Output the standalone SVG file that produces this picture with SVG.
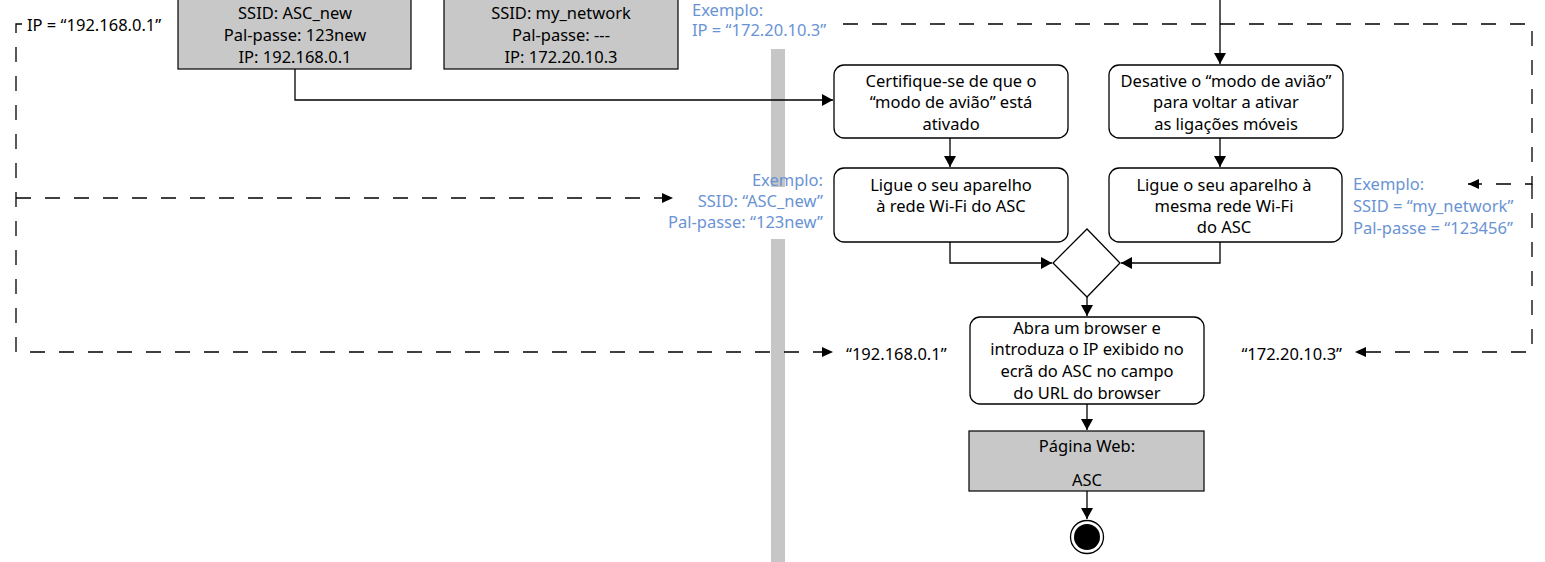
<svg xmlns="http://www.w3.org/2000/svg" width="1545" height="562" viewBox="0 0 1545 562">
<style>
text{font-family:"Noto Sans","Liberation Sans",sans-serif;font-size:16.5px;fill:#000;dominant-baseline:central}
.c{text-anchor:middle}
.r{text-anchor:end}
.b{fill:#6a93d4;font-size:16.5px}
.grey{fill:#c8c8c8;stroke:#000;stroke-width:1.2}
.act{fill:#fff;stroke:#000;stroke-width:1.3}
.ln{fill:none;stroke:#000;stroke-width:1.3}
.dl{fill:none;stroke:#000;stroke-width:1.3;stroke-dasharray:15 14}
</style>
<defs>
<marker id="ah" markerUnits="userSpaceOnUse" markerWidth="12" markerHeight="12" refX="11" refY="6" orient="auto"><path d="M0,0 L11,6 L0,12 Z" fill="#000"/></marker>
<marker id="ahs" markerUnits="userSpaceOnUse" markerWidth="12" markerHeight="12" refX="11" refY="5" orient="auto"><path d="M0,0 L11,5 L0,10 Z" fill="#000"/></marker>
</defs>
<rect x="771" y="49" width="14" height="138" fill="#c6c6c6"/>
<rect x="771" y="239" width="14" height="323" fill="#c6c6c6"/>
<g id="connectors">
<path class="ln" d="M295,69 V100 H833" marker-end="url(#ah)"/>
<path class="ln" d="M1220,0 V64" marker-end="url(#ah)"/>
<path class="ln" d="M950,138 V167" marker-end="url(#ah)"/>
<path class="ln" d="M1220,138 V167" marker-end="url(#ah)"/>
<path class="ln" d="M950,242 V263 H1052" marker-end="url(#ah)"/>
<path class="ln" d="M1220,242 V263 H1121" marker-end="url(#ah)"/>
<path class="ln" d="M1087,297 V316" marker-end="url(#ah)"/>
<path class="ln" d="M1087,404 V430" marker-end="url(#ah)"/>
<path class="ln" d="M1087,491 V519" marker-end="url(#ah)"/>
<path class="dl" d="M843,24 H1532 V184 H1468" marker-end="url(#ahs)"/>
<path class="dl" d="M1532,184 V352 H1355" marker-end="url(#ahs)"/>
<path class="dl" d="M22,24 H16 V352 H833" marker-end="url(#ahs)"/>
<path class="dl" d="M16,198 H673" marker-end="url(#ahs)"/>
</g>
<g id="box-asc">
<rect class="grey" x="178" y="-10" width="233" height="79"/>
<text class="c" x="295" y="12">SSID: ASC_new</text>
<text class="c" x="295" y="34">Pal-passe: 123new</text>
<text class="c" x="295" y="56">IP: 192.168.0.1</text>
</g>
<g id="box-net">
<rect class="grey" x="444" y="-10" width="234" height="79"/>
<text class="c" x="561" y="12">SSID: my_network</text>
<text class="c" x="561" y="34">Pal-passe: ---</text>
<text class="c" x="561" y="56">IP: 172.20.10.3</text>
</g>
<g id="label-ip1"><text x="27" y="24">IP = “192.168.0.1”</text></g>
<g id="label-ip2">
<text class="b" x="692" y="9">Exemplo:</text>
<text class="b" x="692" y="29">IP = “172.20.10.3”</text>
</g>
<g id="n-certifique">
<rect class="act" x="834" y="65" width="234" height="73" rx="10"/>
<text class="c" x="951" y="80">Certifique-se de que o</text>
<text class="c" x="951" y="101">“modo de avião” está</text>
<text class="c" x="951" y="123">ativado</text>
</g>
<g id="n-desative">
<rect class="act" x="1109" y="65" width="234" height="73" rx="10"/>
<text class="c" x="1226" y="80">Desative o “modo de avião”</text>
<text class="c" x="1226" y="101">para voltar a ativar</text>
<text class="c" x="1226" y="123">as ligações móveis</text>
</g>
<g id="n-ligue1">
<rect class="act" x="834" y="168" width="234" height="74" rx="10"/>
<text class="c" x="951" y="184">Ligue o seu aparelho</text>
<text class="c" x="951" y="205">à rede Wi-Fi do ASC</text>
</g>
<g id="n-ligue2">
<rect class="act" x="1109" y="168" width="233" height="74" rx="10"/>
<text class="c" x="1224" y="184">Ligue o seu aparelho à</text>
<text class="c" x="1224" y="205">mesma rede Wi-Fi</text>
<text class="c" x="1224" y="226">do ASC</text>
</g>
<g id="label-ex1">
<text class="b r" x="823" y="179">Exemplo:</text>
<text class="b r" x="823" y="200">SSID: “ASC_new”</text>
<text class="b r" x="823" y="221">Pal-passe: “123new”</text>
</g>
<g id="label-ex2">
<text class="b" x="1353" y="183">Exemplo:</text>
<text class="b" x="1353" y="205">SSID = “my_network”</text>
<text class="b" x="1353" y="227">Pal-passe = “123456”</text>
</g>
<g id="n-merge">
<path class="act" d="M1087,229 L1120,263 L1087,297 L1053,263 Z"/>
</g>
<g id="n-abra">
<rect class="act" x="970" y="317" width="234" height="87" rx="10"/>
<text class="c" x="1087" y="327">Abra um browser e</text>
<text class="c" x="1087" y="348">introduza o IP exibido no</text>
<text class="c" x="1087" y="370">ecrã do ASC no campo</text>
<text class="c" x="1087" y="392">do URL do browser</text>
</g>
<g id="label-ip3"><text x="846" y="353">“192.168.0.1”</text></g>
<g id="label-ip4"><text class="r" x="1342" y="353">“172.20.10.3”</text></g>
<g id="n-pagina">
<rect class="grey" x="969" y="431" width="235" height="60"/>
<text class="c" x="1087" y="445">Página Web:</text>
<text class="c" x="1087" y="479">ASC</text>
</g>
<g id="n-end">
<circle cx="1087" cy="537" r="16.5" fill="#fff" stroke="#000" stroke-width="1.3"/>
<circle cx="1087" cy="537" r="13" fill="#000"/>
</g>
</svg>
